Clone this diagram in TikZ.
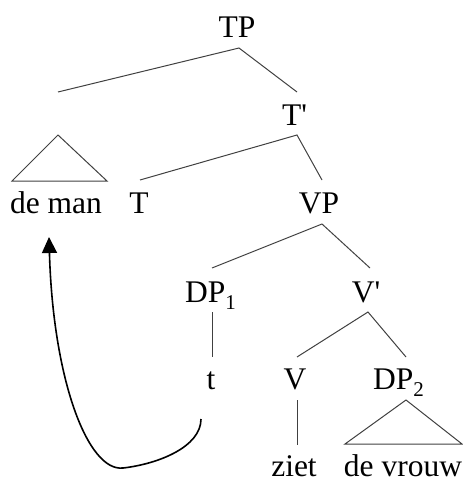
\documentclass[tikz,border=0pt]{standalone}
\usepackage{fontspec}
\setmainfont{Liberation Serif}
\usetikzlibrary{arrows.meta}
\newcommand{\subidx}[1]{\raisebox{-7.5pt}{\fontsize{21}{21}\selectfont #1}}
\begin{document}
\begin{tikzpicture}[x=1pt,y=-1pt,
  lbl/.style={inner sep=0pt,anchor=base,text depth=0pt,font=\fontsize{31.5}{34}\selectfont},
  lblw/.style={lbl,anchor=base west},
  branch/.style={draw=black!75,line width=1pt},
  movearrow/.style={draw=black,line width=1.6pt,-{Triangle[width=15pt,length=16pt]}}]
\useasboundingbox (0,0) rectangle (463,482);
% labels
\node[lbl] (TP) at (237,37) {TP};
\node[lbl] (Tbar) at (294.5,125) {T\textquotesingle};
\node[lbl] (deman) at (56,213) {de man};
\node[lbl] (T) at (139,213) {T};
\node[lbl] (VP) at (319,213) {VP};
\node[lblw] (DPa) at (185,302) {DP\subidx{1}};
\node[lbl] (Vbar) at (366,302) {V\textquotesingle};
\node[lbl] (t) at (211,389) {t};
\node[lbl] (V) at (295,389) {V};
\node[lblw] (DPb) at (373,389) {DP\subidx{2}};
\node[lbl] (ziet) at (294,476) {ziet};
\node[lbl] (devrouw) at (403,476) {de vrouw};
% branch points
\coordinate (TPb) at (239,48);
\coordinate (DPs) at (58,92);
\coordinate (Tbart) at (297,92);
\coordinate (Tbarb) at (297,135);
\coordinate (Tt) at (140,180);
\coordinate (VPt) at (322,180);
\coordinate (VPb) at (322,224);
\coordinate (DPat) at (212,268);
\coordinate (Vbart) at (370,268);
\coordinate (DPab) at (212,312);
\coordinate (tt) at (212,357);
\coordinate (Vbarb) at (368,312);
\coordinate (Vt) at (297,357);
\coordinate (DPbt) at (406,357);
\coordinate (Vb) at (297,400);
\coordinate (zt) at (297,445);
\coordinate (triAa) at (58,135);
\coordinate (triAl) at (12,181);
\coordinate (triAr) at (107,181);
\coordinate (triBa) at (406,400);
\coordinate (triBl) at (345,444);
\coordinate (triBr) at (462,444);
% branches
\draw[branch] (DPs) -- (TPb) -- (Tbart);
\draw[branch] (Tt) -- (Tbarb) -- (VPt);
\draw[branch] (DPat) -- (VPb) -- (Vbart);
\draw[branch] (DPab) -- (tt);
\draw[branch] (Vt) -- (Vbarb) -- (DPbt);
\draw[branch] (Vb) -- (zt);
\draw[branch] (triAa) -- (triAl) -- (triAr) -- cycle;
\draw[branch] (triBa) -- (triBl) -- (triBr) -- cycle;
% movement arrow
\coordinate (mvs) at (201,419);
\coordinate (mvm) at (123,468);
\coordinate (mve) at (49,237);
\draw[movearrow] (mvs) .. controls (201,447) and (158,464) .. (mvm)
  .. controls (88,472) and (53,380) .. (mve);
\end{tikzpicture}
\end{document}
